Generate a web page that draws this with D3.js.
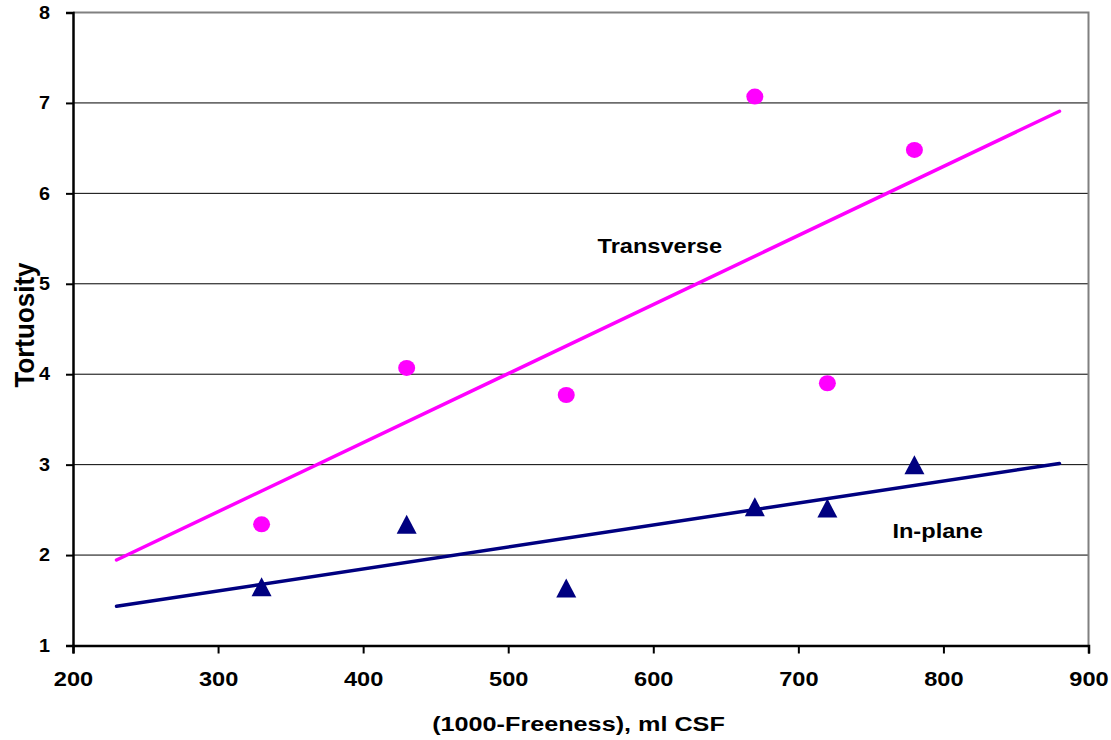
<!DOCTYPE html>
<html>
<head>
<meta charset="utf-8">
<script src="https://cdn.jsdelivr.net/npm/d3@7"></script>
<style>
  body { margin: 0; background: #fff; }
  svg text { font-family: Arial, "Liberation Sans", sans-serif; font-weight: bold; fill: #000; }
</style>
</head>
<body>
<div id="chart"></div>
<script>
// data
let freeness = [330, 430, 540, 670, 720, 780];
let transverse = [2.34, 4.07, 3.77, 7.07, 3.90, 6.48];
let inPlane = [1.65, 2.34, 1.635, 2.535, 2.52, 3.0];
let trendRange = [230, 880];
let xTicks = [200, 300, 400, 500, 600, 700, 800, 900];
let yTicks = [1, 2, 3, 4, 5, 6, 7, 8];

let params = {
    width: 1111, height: 740,
    margin: { top: 12.5, right: 22.5, bottom: 94.5, left: 73 },
    stretch: 1.18   // the reference text is a bit wide
};
let w = params.width - params.margin.left - params.margin.right;
let h = params.height - params.margin.top - params.margin.bottom;

let svg = d3.select("#chart")
    .append("svg")
    .attr("width", params.width)
    .attr("height", params.height);

let g = svg.append("g")
    .attr("transform", "translate(" + params.margin.left + "," + params.margin.top + ")");

const x = d3.scaleLinear().domain([200, 900]).range([0, w]);
const y = d3.scaleLinear().domain([1, 8]).range([h, 0]);

// least squares fit for the trend lines
function fit(xs, ys) {
    let mx = d3.mean(xs), my = d3.mean(ys);
    let sxy = d3.sum(xs, (v, i) => (v - mx) * (ys[i] - my));
    let sxx = d3.sum(xs, v => (v - mx) * (v - mx));
    let b = sxy / sxx;
    return v => my + b * (v - mx);
}

// put a label at (px, py) stretched sideways
function wideText(parent, px, py, size, str, k) {
    return parent.append("text")
        .attr("transform", "translate(" + px + "," + py + ") scale(" + (k || params.stretch) + ",1)")
        .attr("text-anchor", "middle")
        .style("font-size", size + "px")
        .text(str);
}

// gridlines
g.append("g")
    .selectAll("line")
    .data(yTicks.filter(d => d > 1 && d < 8))
    .enter().append("line")
    .attr("x1", 0).attr("x2", w)
    .attr("y1", d => y(d)).attr("y2", d => y(d))
    .attr("stroke", "#000").attr("stroke-width", 1);

// plot border (top/right)
g.append("path")
    .attr("d", "M0," + y(8) + "H" + w + "V" + h)
    .attr("fill", "none")
    .attr("stroke", "#808080")
    .attr("stroke-width", 2);

// axes
let xAxis = g.append("g")
    .attr("transform", "translate(0," + h + ")")
    .call(d3.axisBottom(x).tickValues(xTicks).tickSize(8).tickPadding(18).tickFormat(d3.format("d")));
xAxis.selectAll("text")
    .style("font-size", "20px")
    .attr("transform", "scale(" + params.stretch + ",1)");

let yAxis = g.append("g")
    .call(d3.axisLeft(y).tickValues(yTicks).tickSize(7).tickPadding(14).tickFormat(d3.format("d")));
yAxis.selectAll("text")
    .style("font-size", "18px")
    .attr("transform", "scale(1.1,1)");

svg.selectAll(".domain").attr("stroke", "#000").attr("stroke-width", 2.5);
svg.selectAll(".tick line").attr("stroke", "#000").attr("stroke-width", 2);

// trend lines
let series = [
    { name: "Transverse", values: transverse, color: "#FF00FF" },
    { name: "In-plane", values: inPlane, color: "#000080" }
];
series.forEach(s => {
    let f = fit(freeness, s.values);
    g.append("line")
        .attr("x1", x(trendRange[0])).attr("y1", y(f(trendRange[0])))
        .attr("x2", x(trendRange[1])).attr("y2", y(f(trendRange[1])))
        .attr("stroke", s.color)
        .attr("stroke-width", 3.5)
        .attr("stroke-linecap", "round");
});

// transverse points
g.append("g")
    .selectAll("ellipse")
    .data(freeness)
    .enter().append("ellipse")
    .attr("cx", d => x(d))
    .attr("cy", (d, i) => y(transverse[i]))
    .attr("rx", 8.5).attr("ry", 8)
    .attr("fill", "#FF00FF");

// in-plane points, triangle centred on its box
let triW = 20, triH = 19;
g.append("g")
    .selectAll("path")
    .data(freeness)
    .enter().append("path")
    .attr("d", "M0," + (-triH / 2) + "L" + (triW / 2) + "," + (triH / 2) + "L" + (-triW / 2) + "," + (triH / 2) + "Z")
    .attr("transform", (d, i) => "translate(" + x(d) + "," + y(inPlane[i]) + ")")
    .attr("fill", "#000080");

// series labels
wideText(g, x(604.5), 240.5, 20, "Transverse");
wideText(g, x(796), 525.5, 20, "In-plane");

// axis titles
wideText(svg, 578.5, 731, 21, "(1000-Freeness), ml CSF", 1.2);
svg.append("text")
    .attr("transform", "translate(34,325) rotate(-90) scale(1,1.08)")
    .attr("text-anchor", "middle")
    .style("font-size", "26px")
    .text("Tortuosity");
</script>
</body>
</html>
